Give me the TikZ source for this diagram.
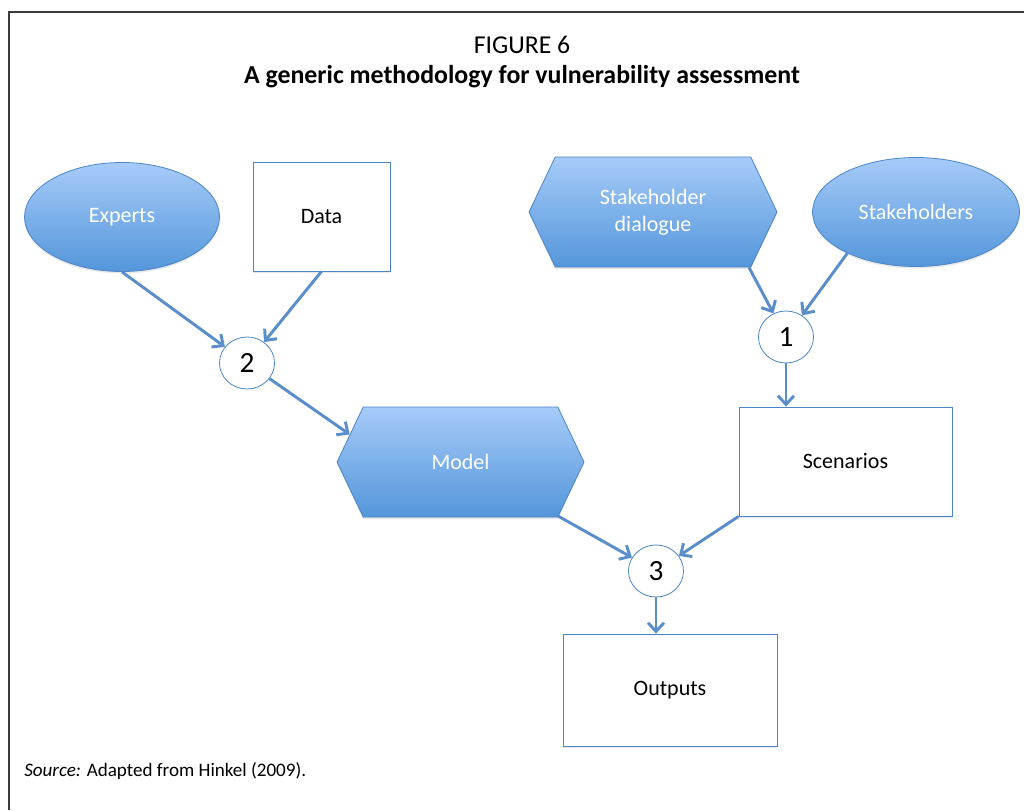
\documentclass[tikz,border=0pt]{standalone}
\usepackage{fontspec}
\setmainfont{Carlito}
\usetikzlibrary{shapes.geometric,shapes.symbols,arrows.meta,shadows}
\definecolor{edgeblue}{RGB}{74,134,200}
\definecolor{fillTop}{RGB}{166,203,249}
\definecolor{fillBot}{RGB}{84,150,218}
\definecolor{flowblue}{RGB}{90,142,203}
\definecolor{framegray}{RGB}{60,60,60}

\begin{document}
\begin{tikzpicture}[x=0.75pt,y=0.75pt,yscale=-1,xscale=1,
		softshadow/.style={drop shadow={opacity=0.18,shadow xshift=0pt,shadow yshift=-1.5pt}},
		bluebox/.style={draw=edgeblue,line width=0.6pt,top color=fillTop,bottom color=fillBot,text=white,font=\fontsize{16.5}{20}\selectfont,align=center,softshadow},
		hexbox/.style={bluebox,signal,signal to=west and east,signal pointer angle=129,inner sep=0pt},
		whitebox/.style={draw=edgeblue,line width=0.6pt,fill=white,font=\fontsize{16.5}{20}\selectfont,softshadow},
		stepnum/.style={ellipse,draw=edgeblue,line width=0.6pt,fill=white,inner sep=0pt,minimum width=41.25pt,minimum height=39pt,font=\fontsize{22}{24}\selectfont},
		flow/.style={draw=flowblue,line width=2.2pt,-{Straight Barb[length=6.5pt,width=12pt]}}]
	\useasboundingbox (0,0) rectangle (1024,810);
	%Frame
	\draw [framegray,line width=1.2pt]  (1024,12) -- (9,12) -- (9,810) ;

	% Text Node
	\node (fig) at (522,45) {\fontsize{19.3}{22}\selectfont FIGURE 6};
	% Text Node
	\node (title) at (522,77) {\fontsize{19.4}{22}\selectfont\bfseries A generic methodology for vulnerability assessment};

	%Shapes
	\node [bluebox,ellipse,minimum width=146.25pt,minimum height=81.75pt] (experts) at (122,217) {Experts};
	\node [whitebox,minimum width=102.75pt,minimum height=81.75pt] (data) at (321.5,216.5) {Data};
	\node [hexbox,minimum width=186pt,minimum height=82.5pt] (sdlg) at (653,212) {Stakeholder\\dialogue};
	\node [bluebox,ellipse,minimum width=155.25pt,minimum height=81.75pt] (stkh) at (916,212) {Stakeholders};
	\node [hexbox,minimum width=185.25pt,minimum height=82.5pt] (model) at (460.5,462) {Model};
	\node [whitebox,minimum width=159.75pt,minimum height=81.75pt] (scen) at (845.5,461.5) {Scenarios};
	\node [whitebox,minimum width=160.5pt,minimum height=84pt] (outp) at (670,690) {Outputs};

	%Steps
	\node [stepnum] (s2) at (247,363) {2};
	\node [stepnum] (s1) at (786,337) {1};
	\node [stepnum] (s3) at (656,571) {3};

	%Straight Lines
	\draw [flow]  (experts.south) -- (s2) ;
	\draw [flow]  (data.south) -- (s2) ;
	\draw [flow]  (s2) -- (model.166) ;
	\draw [flow]  (sdlg.-30) -- (s1) ;
	\draw [flow]  (stkh.-149) -- (s1) ;
	\draw [flow]  (s1) -- (s1 |- scen.north) ;
	\draw [flow]  (model.-29) -- (s3) ;
	\draw [flow]  (scen.south west) -- (s3) ;
	\draw [flow]  (s3) -- (s3 |- outp.north) ;

	% Text Node
	\node [anchor=west,inner sep=0pt,font=\fontsize{14.3}{17}\selectfont] (src) at (24,771) {\textit{Source:} Adapted from Hinkel (2009).};
\end{tikzpicture}
\end{document}
